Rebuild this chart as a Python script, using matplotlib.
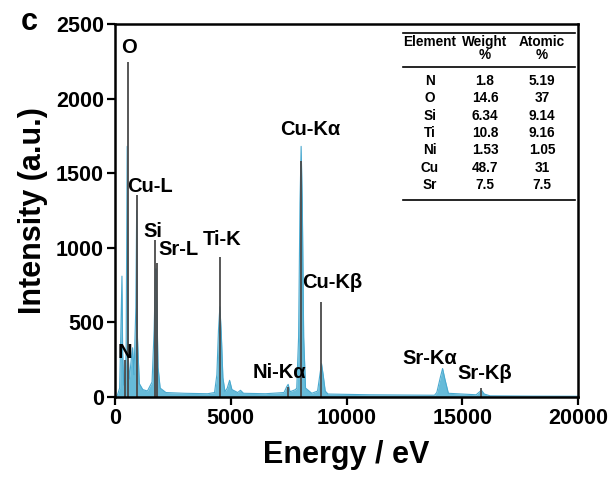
import numpy as np
import matplotlib
matplotlib.use("Agg")
import matplotlib.pyplot as plt

plt.rcParams['font.family'] = ['Liberation Sans', 'DejaVu Sans']
plt.rcParams['font.weight'] = 'bold'

# EDS spectrum (energy in eV, counts)
energy = [0, 100, 200, 260, 300, 330, 380, 430, 480, 525, 565, 620, 700, 760, 820,
          900, 935, 970, 1050, 1200, 1400, 1600, 1690, 1740, 1770, 1810, 1860, 1950, 2200,
          3000, 4000, 4300, 4400, 4470, 4530, 4590, 4660, 4750, 4850, 4950, 5050, 5300, 5420,
          5550, 6500, 7300, 7420, 7480, 7560, 7800, 7850, 7930, 7990, 8040, 8090, 8150,
          8230, 8500, 8750, 8850, 8920, 8990, 9080, 9200, 11000, 13800, 13900, 14050,
          14150, 14250, 14400, 15600, 15750, 15830, 15950, 16200, 18000, 20000]
counts = [0, 10, 60, 500, 810, 300, 80, 120, 300, 1680, 300, 120, 250, 330, 150,
          600, 1250, 400, 90, 50, 40, 100, 450, 780, 860, 600, 200, 60, 30,
          25, 22, 30, 150, 450, 605, 430, 130, 35, 60, 112, 50, 30, 45,
          25, 22, 30, 70, 85, 35, 50, 60, 400, 1300, 1680, 1300, 400,
          60, 25, 40, 150, 224, 150, 40, 20, 15, 12, 30, 130,
          191, 120, 25, 15, 35, 45, 20, 8, 6, 5]

# reference lines of the elements
line_names = ['N', 'O', 'Cu-L', 'Si', 'Sr-L', 'Ti-K', 'Ni-Kα', 'Cu-Kα', 'Cu-Kβ', 'Sr-Kβ']
line_energy = [430, 540, 935, 1740, 1810, 4520, 7470, 8040, 8900, 15830]
line_height = [247, 2245, 1355, 1053, 896, 941, 67, 1580, 638, 60]

# peak labels (text, x, y in data units)
labels = [('N', 430, 300), ('O', 600, 2340), ('Cu-L', 1500, 1410), ('Si', 1620, 1110),
          ('Sr-L', 2750, 990), ('Ti-K', 4620, 1053), ('Cu-Kα', 8450, 1790),
          ('Cu-Kβ', 9400, 765), ('Ni-Kα', 7100, 165), ('Sr-Kα', 13600, 260),
          ('Sr-Kβ', 15950, 160)]

# composition table
elements = ['N', 'O', 'Si', 'Ti', 'Ni', 'Cu', 'Sr']
weight = ['1.8', '14.6', '6.34', '10.8', '1.53', '48.7', '7.5']
atomic = ['5.19', '37', '9.14', '9.16', '1.05', '31', '7.5']

fig = plt.figure(figsize=(6.14, 4.86), dpi=100)
ax = fig.add_axes([0.1873, 0.1831, 0.7541, 0.7675])

ax.fill_between(energy, counts, 0, color='#66bbd9', lw=0)
ax.plot(energy, counts, color='#4aa9cf', lw=0.8)
ax.vlines(line_energy, 0, line_height, color='#4a4a4a', lw=1.3)

for txt, x, y in labels:
    ax.text(x, y, txt, ha='center', va='center', fontsize=14.5, fontweight='bold')

ax.set_xlim(0, 20000)
ax.set_ylim(0, 2500)
ax.set_xticks([0, 5000, 10000, 15000, 20000])
ax.set_yticks([0, 500, 1000, 1500, 2000, 2500])
ax.tick_params(direction='out', length=6, width=1.6, labelsize=15.5, pad=2)
for lab in ax.get_xticklabels() + ax.get_yticklabels():
    lab.set_fontweight('bold')
for s in ax.spines.values():
    s.set_linewidth(1.8)

ax.set_xlabel('Energy / eV', fontsize=22, fontweight='bold', labelpad=8)
ax.set_ylabel('Intensity (a.u.)', fontsize=22, fontweight='bold', labelpad=6)

fig.text(0.033, 0.955, 'c', fontsize=22, fontweight='bold', va='center', ha='left')

# table drawn in axes coords
cols = [0.680, 0.799, 0.922]
tk = dict(transform=ax.transAxes, ha='center', va='center', fontsize=9.8, fontweight='bold')
for yy in [0.976, 0.885, 0.528]:
    ax.plot([0.622, 0.993], [yy, yy], transform=ax.transAxes, color='black', lw=1.2)
ax.text(cols[0], 0.953, 'Element', **tk)
ax.text(cols[1], 0.953, 'Weight', **tk)
ax.text(cols[2], 0.953, 'Atomic', **tk)
ax.text(cols[1], 0.917, '%', **tk)
ax.text(cols[2], 0.917, '%', **tk)
for i in range(len(elements)):
    y = 0.847 - i * 0.0465
    ax.text(cols[0], y, elements[i], **tk)
    ax.text(cols[1], y, weight[i], **tk)
    ax.text(cols[2], y, atomic[i], **tk)

plt.savefig('out.png', dpi=100)
